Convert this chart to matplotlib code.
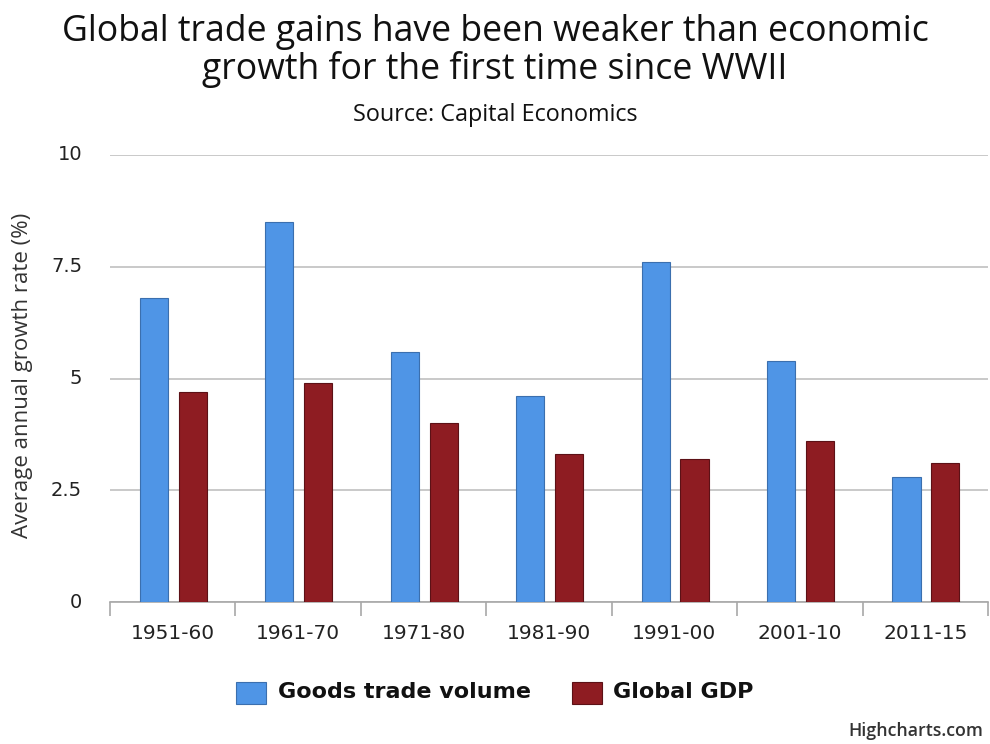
import matplotlib
matplotlib.use("Agg")
import matplotlib.pyplot as plt
import numpy as np

categories = ["1951-60", "1961-70", "1971-80", "1981-90", "1991-00", "2001-10", "2011-15"]
trade_volume = [6.8, 8.5, 5.6, 4.6, 7.6, 5.4, 2.8]
global_gdp = [4.7, 4.9, 4.0, 3.3, 3.2, 3.6, 3.1]
yticks = [0, 2.5, 5, 7.5, 10]
ytick_labels = ["0", "2.5", "5", "7.5", "10"]

plt.rcParams['font.family'] = ['Open Sans', 'DejaVu Sans']

W, H = 990, 744
fig = plt.figure(figsize=(W / 100, H / 100), dpi=100)
ax = fig.add_axes([110 / W, 1 - 602 / H, 878 / W, 447 / H])

x = np.arange(len(categories))
bw = 0.225
ax.bar(x - 0.15, trade_volume, width=bw, color="#4f95e6", edgecolor="#3b6fae", linewidth=0.8, zorder=3)
ax.bar(x + 0.16, global_gdp, width=bw, color="#8e1c22", edgecolor="#5c1116", linewidth=0.8, zorder=3)

ax.set_xlim(-0.5, len(categories) - 0.5)
ax.set_ylim(0, 10)
ax.set_yticks(yticks)
ax.set_yticklabels([])
for v, lab in zip(yticks, ytick_labels):
    ax.text(-0.5 - 28 / 125.5, v, lab, ha="right", va="center", fontsize=14, color="#222222",
            family=["DejaVu Sans"])
ax.tick_params(axis="y", length=0)
ax.grid(axis="y", color="#c0c0c0", linewidth=1.2, zorder=0)

for s in ["top", "right", "left"]:
    ax.spines[s].set_visible(False)
ax.spines["bottom"].set_color("#a8a8a8")
ax.spines["bottom"].set_linewidth(1.2)

ax.set_xticks(np.arange(len(categories) + 1) - 0.5, minor=False)
ax.set_xticklabels([])
ax.tick_params(axis="x", length=10, color="#a8a8a8", width=1.2, direction="out")
for i, c in enumerate(categories):
    ax.text(i, -0.07, c, transform=ax.get_xaxis_transform(), ha="center", va="center",
            fontsize=14.5, color="#222222", family=["DejaVu Sans"])

fig.text(23 / W, 1 - 375 / H, "Average annual growth rate (%)", rotation=90, ha="center", va="center",
         fontsize=16, color="#333333")

fig.text(0.5, 1 - 32 / H, "Global trade gains have been weaker than economic", ha="center", va="center",
         fontsize=25.7, color="#111111")
fig.text(0.5, 1 - 70 / H, "growth for the first time since WWII", ha="center", va="center",
         fontsize=25.7, color="#111111")
fig.text(0.5, 1 - 115 / H, "Source: Capital Economics", ha="center", va="center",
         fontsize=16.8, color="#111111")

# legend
fig.patches.append(matplotlib.patches.Rectangle((236 / W, 1 - 704 / H), 30 / W, 22 / H,
                   transform=fig.transFigure, facecolor="#4f95e6", edgecolor="#3b6fae", linewidth=0.8))
fig.text(278 / W, 1 - 692 / H, "Goods trade volume", ha="left", va="center", fontsize=16,
         fontweight="bold", color="#111111", family=["DejaVu Sans"])
fig.patches.append(matplotlib.patches.Rectangle((572 / W, 1 - 704 / H), 30 / W, 22 / H,
                   transform=fig.transFigure, facecolor="#8e1c22", edgecolor="#5c1116", linewidth=0.8))
fig.text(613 / W, 1 - 692 / H, "Global GDP", ha="left", va="center", fontsize=16,
         fontweight="bold", color="#111111", family=["DejaVu Sans"])

fig.text(983 / W, 1 - 731 / H, "Highcharts.com", ha="right", va="center", fontsize=12.8,
         fontweight="semibold", color="#333333")

fig.savefig("out.png", dpi=100, facecolor="white")
